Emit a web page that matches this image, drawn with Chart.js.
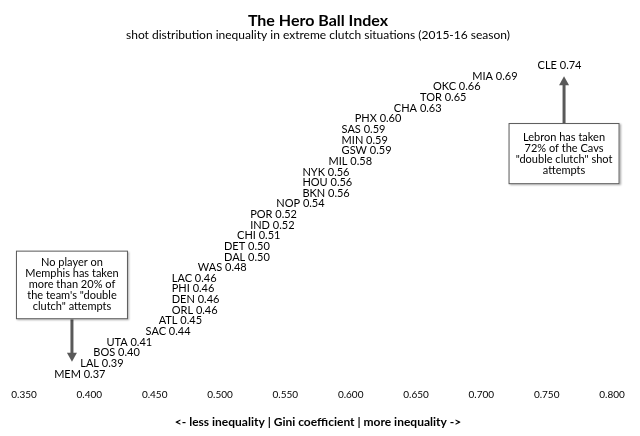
<!DOCTYPE html>
<html>
<head>
<meta charset="utf-8">
<script src="https://cdn.jsdelivr.net/npm/chart.js@4.4.1/dist/chart.umd.min.js"></script>
<style>
  html, body { margin: 0; padding: 0; background: #fff; }
  #wrap { width: 640px; height: 436px; }
</style>
</head>
<body>
<div id="wrap"><canvas id="chart"></canvas></div>
<script>
// equipos ordenados de menor a mayor desigualdad
const teams = ['MEM', 'LAL', 'BOS', 'UTA', 'SAC', 'ATL', 'ORL', 'DEN', 'PHI', 'LAC',
               'WAS', 'DAL', 'DET', 'CHI', 'IND', 'POR', 'NOP', 'BKN', 'HOU', 'NYK',
               'MIL', 'GSW', 'MIN', 'SAS', 'PHX', 'CHA', 'TOR', 'OKC', 'MIA', 'CLE'];
const gini = [0.37, 0.39, 0.40, 0.41, 0.44, 0.45, 0.46, 0.46, 0.46, 0.46,
              0.48, 0.50, 0.50, 0.51, 0.52, 0.52, 0.54, 0.56, 0.56, 0.56,
              0.58, 0.59, 0.59, 0.59, 0.60, 0.63, 0.65, 0.66, 0.69, 0.74];
const xTicks = [0.35, 0.40, 0.45, 0.50, 0.55, 0.60, 0.65, 0.70, 0.75, 0.80];

const notes = [
    {
        lines: ['No player on', 'Memphis has taken', 'more than 20% of', 'the team\'s "double', 'clutch" attempts'],
        x: 0.3867, boxTop: 12.6, boxBottom: 6.15, tip: 2.15, width: 112
    },
    {
        lines: ['Lebron has taken', '72% of the Cavs', '"double clutch" shot', 'attempts'],
        x: 0.7633, boxTop: 24.6, boxBottom: 18.85, tip: 29.0, width: 111
    }
];

const FONT = 'Lato, "Noto Sans", sans-serif';

// etiquetas de texto en cada punto
const teamLabels = {
    id: 'teamLabels',
    afterDatasetsDraw(chart) {
        const ctx = chart.ctx;
        const meta = chart.getDatasetMeta(0);
        ctx.save();
        ctx.font = '11px ' + FONT;
        ctx.fillStyle = '#000';
        ctx.textAlign = 'left';
        ctx.textBaseline = 'middle';
        meta.data.forEach((pt, i) => {
            ctx.fillText(teams[i] + ' ' + gini[i].toFixed(2), pt.x + 4, pt.y);
        });
        ctx.restore();
    }
};

// cuadros de nota con flecha
const callouts = {
    id: 'callouts',
    afterDatasetsDraw(chart) {
        const ctx = chart.ctx;
        const xs = chart.scales.x, ys = chart.scales.y;
        notes.forEach(n => {
            const cx = xs.getPixelForValue(n.x);
            const top = ys.getPixelForValue(n.boxTop);
            const bottom = ys.getPixelForValue(n.boxBottom);
            const tip = ys.getPixelForValue(n.tip);
            const left = cx - n.width / 2;
            const start = tip > bottom ? bottom : top;
            const dir = tip > bottom ? 1 : -1;

            // flecha
            ctx.save();
            ctx.strokeStyle = '#595959';
            ctx.fillStyle = '#595959';
            ctx.lineWidth = 3;
            ctx.beginPath();
            ctx.moveTo(cx, start);
            ctx.lineTo(cx, tip - dir * 7);
            ctx.stroke();
            ctx.beginPath();
            ctx.moveTo(cx, tip);
            ctx.lineTo(cx - 5, tip - dir * 9);
            ctx.lineTo(cx + 5, tip - dir * 9);
            ctx.closePath();
            ctx.fill();
            ctx.restore();

            // cuadro
            ctx.save();
            ctx.shadowColor = 'rgba(0,0,0,0.35)';
            ctx.shadowBlur = 2;
            ctx.shadowOffsetX = 1;
            ctx.shadowOffsetY = 1;
            ctx.fillStyle = '#fff';
            ctx.fillRect(left, top, n.width, bottom - top);
            ctx.restore();
            ctx.save();
            ctx.strokeStyle = '#595959';
            ctx.lineWidth = 1;
            ctx.strokeRect(left + 0.5, top + 0.5, n.width - 1, bottom - top - 1);

            ctx.font = '11px ' + FONT;
            ctx.fillStyle = '#000';
            ctx.textAlign = 'center';
            ctx.textBaseline = 'middle';
            const lh = 11;
            const mid = (top + bottom) / 2;
            const first = mid - (n.lines.length - 1) * lh / 2;
            n.lines.forEach((line, i) => ctx.fillText(line, cx, first + i * lh));
            ctx.restore();
        });
    }
};

const canvas = document.getElementById('chart');
canvas.chart = new Chart(canvas.getContext('2d'), {
    type: 'scatter',
    data: {
        datasets: [{
            label: 'Gini',
            data: teams.map((t, i) => ({ x: gini[i], y: i + 1 })),
            pointRadius: 0,
            pointHoverRadius: 0
        }]
    },
    options: {
        responsive: true,
        maintainAspectRatio: false,
        animation: false,
        layout: {
            padding: { left: 24, right: 28, top: 0, bottom: 7 }
        },
        plugins: {
            legend: { display: false },
            tooltip: { enabled: false },
            title: {
                display: true,
                text: 'The Hero Ball Index',
                color: '#000',
                font: { family: FONT, size: 16, weight: 'bold', lineHeight: 1 },
                padding: { top: 13, bottom: 0 }
            },
            subtitle: {
                display: true,
                text: 'shot distribution inequality in extreme clutch situations (2015-16 season)',
                color: '#000',
                font: { family: FONT, size: 12, lineHeight: 1 },
                padding: { top: 0, bottom: 14 }
            }
        },
        scales: {
            x: {
                type: 'linear',
                min: 0.35,
                max: 0.80,
                afterBuildTicks: axis => {
                    axis.ticks = xTicks.map(v => ({ value: v }));
                },
                grid: { display: false, drawTicks: false },
                border: { display: false },
                ticks: {
                    color: '#000',
                    padding: 4,
                    maxRotation: 0,
                    font: { family: FONT, size: 10 },
                    callback: value => Number(value).toFixed(3)
                },
                title: {
                    display: true,
                    text: '<- less inequality | Gini coefficient | more inequality ->',
                    color: '#000',
                    font: { family: FONT, size: 12, weight: 'bold', lineHeight: 1.2 },
                    padding: { top: 10, bottom: 0 }
                }
            },
            y: {
                display: false,
                min: 0,
                max: 31
            }
        }
    },
    plugins: [teamLabels, callouts]
});
</script>
</body>
</html>
